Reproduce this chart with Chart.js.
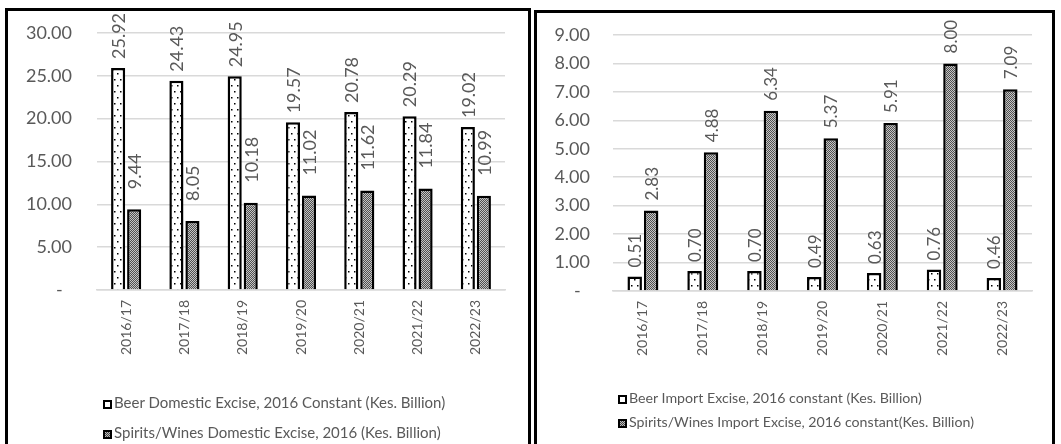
<!DOCTYPE html>
<html>
<head>
<meta charset="utf-8">
<script src="https://cdn.jsdelivr.net/npm/chart.js@4/dist/chart.umd.min.js"></script>
<style>
    body { margin: 0; background: #fff; width: 1061px; height: 444px; overflow: hidden; position: relative; font-family: Lato, sans-serif; }
    .panel { position: absolute; border: 3px solid #000; height: 460px; box-sizing: border-box; }
    canvas { position: absolute; }
    .legend { position: absolute; color: #595959; white-space: nowrap; }
    .legend div { position: absolute; left: 0; line-height: 16px; }
    .mk { display: inline-block; width: 5px; height: 5px; border: 2px solid #000; background: #fff; margin-right: 2px; vertical-align: -1px; }
    .mk.dark { background: repeating-conic-gradient(#444 0 25%, #bbb 0 50%) 0 0 / 2px 2px; }
</style>
</head>
<body>
<div class="panel" style="left:5px; top:8px; width:526px;"></div>
<div class="panel" style="left:534px; top:10px; width:521px;"></div>

<canvas id="domesticChart" width="519" height="433" style="left:8px; top:11px;"></canvas>
<canvas id="importChart" width="514" height="431" style="left:537px; top:13px;"></canvas>

<div class="legend" style="left:103px; top:0; font-size:15px;">
    <div style="top:394px;"><span class="mk"></span>Beer Domestic Excise, 2016 Constant (Kes. Billion)</div>
    <div style="top:424px;"><span class="mk dark"></span>Spirits/Wines Domestic Excise, 2016 (Kes. Billion)</div>
</div>
<div class="legend" style="left:618px; top:0; font-size:14.2px;">
    <div style="top:390px;"><span class="mk"></span>Beer Import Excise, 2016 constant (Kes. Billion)</div>
    <div style="top:414px;"><span class="mk dark"></span>Spirits/Wines Import Excise, 2016 constant(Kes. Billion)</div>
</div>

<script>
// Fiscal years
const years = ['2016/17', '2017/18', '2018/19', '2019/20', '2020/21', '2021/22', '2022/23'];

// Domestic excise (Kes. Billion, 2016 constant)
const beerDomestic = [25.92, 24.43, 24.95, 19.57, 20.78, 20.29, 19.02];
const spiritsDomestic = [9.44, 8.05, 10.18, 11.02, 11.62, 11.84, 10.99];

// Import excise (Kes. Billion, 2016 constant)
const beerImport = [0.51, 0.70, 0.70, 0.49, 0.63, 0.76, 0.46];
const spiritsImport = [2.83, 4.88, 6.34, 5.37, 5.91, 8.00, 7.09];

// Axis ranges
const domesticAxis = { max: 30, step: 5 };
const importAxis = { max: 9, step: 1 };

const textGray = '#595959';
const gridGray = '#d9d9d9';

// White fill with sparse black dots
function dotPattern() {
    const c = document.createElement('canvas');
    c.width = 6; c.height = 12;
    const g = c.getContext('2d');
    g.fillStyle = '#fff';
    g.fillRect(0, 0, 6, 12);
    g.fillStyle = '#000';
    g.fillRect(1, 2, 1.5, 1.5);
    g.fillRect(4, 8, 1.5, 1.5);
    return g.createPattern(c, 'repeat');
}

// Fine dark/light checker fill
function checkPattern() {
    const c = document.createElement('canvas');
    c.width = 2; c.height = 2;
    const g = c.getContext('2d');
    g.fillStyle = '#c4c4c4';
    g.fillRect(0, 0, 2, 2);
    g.fillStyle = '#505050';
    g.fillRect(0, 0, 1, 1);
    g.fillRect(1, 1, 1, 1);
    return g.createPattern(c, 'repeat');
}

// Rotated value labels above each bar
const valueLabels = {
    id: 'valueLabels',
    afterDatasetsDraw(chart, args, opts) {
        const ctx = chart.ctx;
        ctx.save();
        ctx.fillStyle = textGray;
        ctx.font = opts.size + 'px Lato';
        ctx.textAlign = 'left';
        ctx.textBaseline = 'middle';
        chart.data.datasets.forEach((ds, i) => {
            chart.getDatasetMeta(i).data.forEach((bar, j) => {
                ctx.save();
                ctx.translate(bar.x, bar.y - opts.gaps[i]);
                ctx.rotate(-Math.PI / 2);
                ctx.fillText(ds.data[j].toFixed(2), 0, 1);
                ctx.restore();
            });
        });
        ctx.restore();
    }
};

function buildChart(id, beer, spirits, axis, box) {
    const ctx = document.getElementById(id);
    return new Chart(ctx, {
        type: 'bar',
        data: {
            labels: years,
            datasets: [{
                data: beer,
                backgroundColor: dotPattern(),
                borderColor: '#000',
                borderWidth: 2.5,
                borderSkipped: 'bottom'
            }, {
                data: spirits,
                backgroundColor: checkPattern(),
                borderColor: '#000',
                borderWidth: 2.5,
                borderSkipped: 'bottom'
            }]
        },
        options: {
            responsive: false,
            animation: false,
            devicePixelRatio: 1,
            categoryPercentage: 0.55,
            barPercentage: 0.88,
            layout: { padding: { left: 0, right: box.right, top: 22, bottom: 0 } },
            plugins: {
                legend: { display: false },
                tooltip: { enabled: false },
                valueLabels: { size: box.labelSize, gaps: box.gaps }
            },
            scales: {
                x: {
                    grid: { display: false, drawTicks: false },
                    border: { display: true, color: gridGray, width: 1.5 },
                    ticks: {
                        color: textGray,
                        font: { family: 'Lato', size: 14 },
                        minRotation: 90,
                        maxRotation: 90,
                        padding: 10
                    },
                    afterFit: s => { s.height = box.bottom; }
                },
                y: {
                    min: 0,
                    max: axis.max,
                    grid: { color: gridGray, lineWidth: 1.5, drawTicks: false },
                    border: { display: false },
                    ticks: {
                        stepSize: axis.step,
                        color: textGray,
                        font: { family: 'Lato', size: 18 },
                        padding: box.tickPad,
                        callback: v => v === 0 ? '-  ' : v.toFixed(2)
                    },
                    afterFit: s => {
                        s.width = box.yWidth;
                        // tick padding should not push the plot area down
                        s.paddingTop = 0;
                        s.paddingBottom = 0;
                    }
                }
            }
        },
        plugins: [valueLabels]
    });
}

document.fonts.load('18px Lato').then(() => {
    buildChart('domesticChart', beerDomestic, spiritsDomestic, domesticAxis,
        { right: 22, bottom: 154, yWidth: 89, tickPad: 25, labelSize: 18, gaps: [9, 20] });
    buildChart('importChart', beerImport, spiritsImport, importAxis,
        { right: 19, bottom: 153, yWidth: 76, tickPad: 23, labelSize: 17, gaps: [9, 10] });
});
</script>
</body>
</html>
